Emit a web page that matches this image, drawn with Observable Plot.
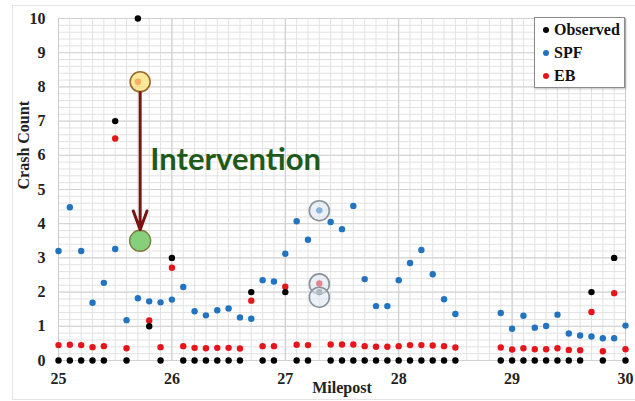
<!DOCTYPE html>
<html><head><meta charset="utf-8">
<script src="https://cdn.jsdelivr.net/npm/d3@7"></script>
<script src="https://cdn.jsdelivr.net/npm/@observablehq/plot@0.6"></script>
<style>
html,body{margin:0;padding:0;background:#fff;width:635px;height:401px;overflow:hidden}
#frame{position:absolute;left:12px;top:5px;width:630px;height:393px;border:1px solid #e4e4e4;}
#chart{position:absolute;left:0;top:0}
#legend{position:absolute;left:534px;top:17px;width:89px;height:69px;border:1px solid #8c8c8c;background:#fff;
  box-shadow:1px 1px 2px rgba(0,0,0,0.25);font-family:"Liberation Serif",serif;font-weight:bold;font-size:16px;color:#111}
#legend .row{position:absolute;left:8px;height:20px;line-height:20px;white-space:nowrap}
#legend .dot{display:inline-block;width:6px;height:6px;border-radius:50%;margin-right:5px;vertical-align:middle;position:relative;top:-1px}
</style></head><body>
<div id="frame"></div>
<div id="chart"></div>
<div id="legend"></div>
<script>
// ---- data ----
const mileposts = [25.0,25.1,25.2,25.3,25.4,25.5,25.6,25.7,25.8,25.9,
  26.0,26.1,26.2,26.3,26.4,26.5,26.6,26.7,26.8,26.9,
  27.0,27.1,27.2,27.3,27.4,27.5,27.6,27.7,27.8,27.9,
  28.0,28.1,28.2,28.3,28.4,28.5,
  28.9,29.0,29.1,29.2,29.3,29.4,29.5,29.6,29.7,29.8,29.9,30.0];
const observed = [0,0,0,0,0,7,0,10,1,0,
  3,0,0,0,0,0,0,2,0,0,
  2,0,0,2,0,0,0,0,0,0,
  0,0,0,0,0,0,
  0,0,0,0,0,0,0,0,2,0,3,0];
const spf = [3.2,4.48,3.2,1.69,2.27,3.26,1.18,1.82,1.73,1.70,
  1.78,2.15,1.44,1.32,1.47,1.52,1.26,1.22,2.35,2.31,
  3.12,4.07,3.53,4.39,4.05,3.84,4.52,2.38,1.59,1.59,
  2.35,2.85,3.23,2.52,1.79,1.36,
  1.39,0.93,1.31,0.96,1.01,1.34,0.79,0.73,0.70,0.65,0.65,1.02];
const eb = [0.45,0.46,0.45,0.39,0.42,6.49,0.36,8.15,1.17,0.39,
  2.71,0.42,0.37,0.36,0.37,0.37,0.35,1.75,0.42,0.42,
  2.16,0.46,0.45,2.25,0.47,0.47,0.47,0.42,0.40,0.40,
  0.42,0.45,0.45,0.44,0.42,0.38,
  0.38,0.32,0.36,0.33,0.33,0.36,0.31,0.30,1.42,0.27,1.97,0.33];
const seriesNames = ["Observed","SPF","EB"];
const seriesColors = ["#000000","#2374c0","#e8141c"];
const xTicks = [25,26,27,28,29,30];
const yTicks = [0,1,2,3,4,5,6,7,8,9,10];
// intervention annotation
const interventionX = [25.72];
const interventionFrom = [8.15];
const interventionTo = [3.5];
const interventionLabel = ["Intervention"];
const interventionLabelX = [25.81];
const interventionLabelY = [5.85];
// highlighted points at milepost 27.3
const highlightX = [27.3,27.3,27.3];
const highlightY = [4.38,2.24,1.85];

// ---- tables ----
const rows = mileposts.map((m,i)=>({m, observed:observed[i], spf:spf[i], eb:eb[i]}));
const interv = interventionX.map((x,i)=>({x, from:interventionFrom[i], to:interventionTo[i]}));
const labels = interventionLabel.map((t,i)=>({t, x:interventionLabelX[i], y:interventionLabelY[i]}));
const highlights = highlightX.map((x,i)=>({x, y:highlightY[i]}));

const minorX = d3.range(0, 51).map(i => 25 + i/10);
const minorY = d3.range(0, 51).map(i => i/5);

const chart = Plot.plot({
  width: 635, height: 401,
  marginLeft: 58, marginRight: 10, marginTop: 18, marginBottom: 41,
  x: {domain: [25, 30]},
  y: {domain: [0, 10]},
  style: {fontFamily: "'Liberation Serif', serif", fontWeight: "bold", fontSize: "16px", color: "#222", background: "transparent", overflow: "visible"},
  marks: [
    Plot.ruleX(minorX, {x: d=>d, y1: 0, y2: 10, stroke: "#e2e2e2", strokeWidth: 1}),
    Plot.ruleY(minorY, {y: d=>d, x1: 25, x2: 30, stroke: "#e2e2e2", strokeWidth: 1}),
    Plot.ruleX(xTicks, {x: d=>d, y1: 0, y2: 10, stroke: "#cccccc", strokeWidth: 1}),
    Plot.ruleY(yTicks, {y: d=>d, x1: 25, x2: 30, stroke: "#d2d2d2", strokeWidth: 1}),
    Plot.axisX(xTicks, {tickSize: 0, tickPadding: 12, tickFormat: d3.format("d"), label: null, fontSize: 16, fontWeight: "bold", fill: "#222"}),
    Plot.axisY(yTicks, {tickSize: 0, tickPadding: 13, tickFormat: d3.format("d"), label: null, fontSize: 16, fontWeight: "bold", fill: "#222"}),
    Plot.text(["Milepost"], {frameAnchor: "bottom", dy: 32, text: d=>d, fontSize: 16, fontWeight: "bold", fill: "#222"}),
    Plot.text(["Crash Count"], {frameAnchor: "left", dx: -35, rotate: -90, text: d=>d, fontSize: 16, fontWeight: "bold", fill: "#222"}),
    Plot.dot(rows, {x: "m", y: "spf", r: 3.2, fill: seriesColors[1]}),
    Plot.dot(rows, {x: "m", y: "eb", r: 3.2, fill: seriesColors[2]}),
    Plot.dot(rows, {x: "m", y: "observed", r: 3.2, fill: seriesColors[0]}),
    Plot.dot(highlights, {x: "x", y: "y", r: 10, fill: "#dbe6f1", fillOpacity: 0.55, stroke: "#8a929b", strokeWidth: 1.6}),
    Plot.dot(interv, {x: "x", y: "from", r: 10, fill: "#fbe27a", fillOpacity: 0.75, stroke: "#9a6a2c", strokeWidth: 1.6}),
    Plot.dot(interv, {x: "x", y: "to", r: 10.5, fill: "#86d07c", stroke: "#7d7d3e", strokeWidth: 1.4}),
    Plot.arrow(interv, {x: "x", y1: "from", y2: "to", insetStart: 10.5, insetEnd: 11, stroke: "#7a1414", strokeWidth: 3, headLength: 10, headAngle: 40}),
    Plot.text(labels, {x: "x", y: "y", text: "t", textAnchor: "start", fontFamily: "Lato, sans-serif", fontWeight: "bold", fontSize: 31, fill: "#1f5a1c"})
  ]
});
document.getElementById("chart").appendChild(chart);

const legend = document.getElementById("legend");
seriesNames.forEach((name, i) => {
  const row = document.createElement("div");
  row.className = "row";
  row.style.top = (2 + i*23) + "px";
  const dot = document.createElement("span");
  dot.className = "dot";
  dot.style.background = seriesColors[i];
  row.appendChild(dot);
  row.appendChild(document.createTextNode(name));
  legend.appendChild(row);
});
</script>
</body></html>
